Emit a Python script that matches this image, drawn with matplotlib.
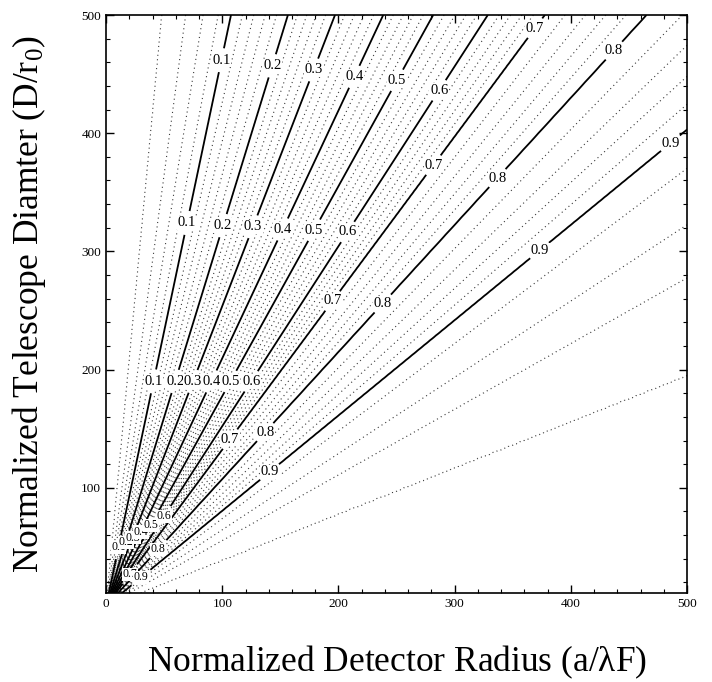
import numpy as np
import matplotlib.pyplot as plt

plt.rcParams['font.family'] = ['Liberation Serif', 'DejaVu Serif']
plt.rcParams['mathtext.default'] = 'regular'

# contour level vs. slope x/y of that contour
level_knots = [0.0, 0.02, 0.04, 0.06, 0.08, 0.1, 0.2, 0.3, 0.4, 0.5, 0.6, 0.7,
               0.8, 0.9, 0.92, 0.94, 0.96, 0.98, 1.0]
ratio_knots = [0.0, 0.096, 0.137, 0.167, 0.193, 0.215, 0.313, 0.394, 0.477, 0.563,
               0.657, 0.755, 0.93, 1.24, 1.35, 1.55, 1.80, 2.56, 60.0]

solid_levels = [0.1, 0.2, 0.3, 0.4, 0.5, 0.6, 0.7, 0.8, 0.9]
dotted_levels = [0.02, 0.04, 0.06, 0.08, 0.12, 0.14, 0.16, 0.18, 0.22, 0.24, 0.26, 0.28,
                 0.32, 0.34, 0.36, 0.38, 0.42, 0.44, 0.46, 0.48, 0.52, 0.54, 0.56, 0.58,
                 0.62, 0.64, 0.66, 0.68, 0.72, 0.74, 0.76, 0.78, 0.82, 0.84, 0.86, 0.88,
                 0.92, 0.94, 0.96, 0.98]

x = np.linspace(0, 500, 501)
y = np.linspace(11, 500, 490)
X, Y = np.meshgrid(x, y)
Z = np.interp(X / Y, ratio_knots, level_knots)

fig = plt.figure(figsize=(7.12, 6.82), dpi=100)
ax = fig.add_axes([0.149, 0.1305, 0.816, 0.8475])

ax.contour(X, Y, Z, levels=dotted_levels, colors='#3a3a3a', linewidths=0.8,
           linestyles=[(0, (1, 3))])
cs = ax.contour(X, Y, Z, levels=solid_levels, colors='black', linewidths=1.3)

# where the labels sit along each line
label_spots = [
    (98, 462), (143, 457), (180, 453), (213, 448), (250, 445), (287, 436),
    (373, 486), (438, 469), (487, 390),
    (70, 324), (100, 322), (126, 321), (151, 319), (177, 319), (207, 317),
    (286, 370), (339, 360), (372, 302),
    (41, 190), (59.5, 190), (75, 190), (90.6, 190), (107, 190), (125, 190),
    (195, 258), (238, 256), (141, 113),
    (107, 141), (137, 147),
]
# crowded ones near the origin
corner_spots = [
    (10.7, 49.8), (16.9, 53.9), (22.8, 57.8), (29.8, 62.6), (38.5, 68.3), (49.8, 75.9),
    (45, 48), (20.5, 27), (31, 23),
]
labels = ax.clabel(cs, manual=label_spots + corner_spots, fmt='%.1f', fontsize=10.5,
                   inline=True, inline_spacing=3)
for i, t in enumerate(labels):
    t.set_rotation(0)
    t.set_bbox(dict(facecolor='white', edgecolor='none', pad=0.5))
    if i >= len(label_spots):
        t.set_fontsize(8.5)

ax.set_xlim(0, 500)
ax.set_ylim(11, 500)
ax.set_xticks([0, 100, 200, 300, 400, 500])
ax.set_yticks([100, 200, 300, 400, 500])
ax.set_xticks(np.arange(0, 501, 20), minor=True)
ax.set_yticks(np.arange(20, 501, 20), minor=True)
ax.tick_params(which='both', direction='in', top=True, right=True, labelsize=9.5)
ax.tick_params(which='major', length=6, width=1)
ax.tick_params(which='minor', length=3, width=0.8)
for s in ax.spines.values():
    s.set_linewidth(1.2)

ax.set_xlabel(r'Normalized Detector Radius (a/$\lambda$F)', fontsize=25.5, labelpad=24)
ax.set_ylabel(r'Normalized Telescope Diamter (D/r$_0$)', fontsize=25.5, labelpad=24)

fig.savefig('out.png', dpi=100)
